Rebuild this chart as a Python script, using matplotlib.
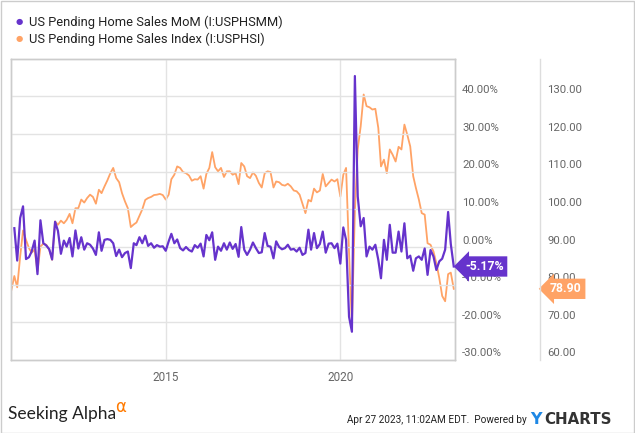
import numpy as np
import pandas as pd
import matplotlib
matplotlib.use("Agg")
import matplotlib.pyplot as plt
import matplotlib.dates as mdates
from matplotlib.lines import Line2D
from matplotlib.patches import Rectangle

plt.rcParams['font.family'] = ['Roboto', 'DejaVu Sans']

# monthly pending home sales index, Jul 2010 .. Mar 2023
index_dates = pd.date_range('2010-07-31', periods=153, freq='ME')
index_values = [
    78.6, 82.3, 79.3, 87.5, 94.4, 91.9, 89.7, 88.5, 89.3, 83.5,
    90.1, 90.9, 90.6, 89.3, 86.6, 96.8, 95.9, 97.0, 96.3, 97.2,
    98.8, 96.3, 100.3, 100.3, 102.6, 101.8, 103.0, 103.9, 103.3, 101.5,
    105.2, 104.3, 106.1, 107.7, 109.6, 111.0, 108.3, 107.2, 104.3, 102.1,
    100.3, 95.3, 96.0, 96.5, 98.3, 100.0, 102.5, 103.0, 103.3, 103.8,
    103.9, 104.1, 103.8, 102.6, 103.9, 108.0, 109.2, 111.4, 111.0, 109.9,
    109.6, 109.0, 107.6, 108.0, 107.9, 108.8, 105.5, 109.4, 111.0, 115.2,
    111.2, 110.1, 111.0, 108.6, 110.1, 110.1, 109.2, 109.6, 106.7, 112.3,
    111.4, 108.8, 108.3, 109.8, 108.9, 107.0, 105.8, 109.6, 110.1, 109.9,
    105.8, 107.4, 107.2, 106.5, 106.3, 106.8, 106.1, 105.0, 104.8, 103.9,
    101.5, 99.0, 102.5, 102.1, 105.5, 104.5, 105.0, 109.4, 106.1, 107.0,
    107.9, 107.4, 108.0, 103.4, 109.2, 111.0, 88.5, 69.5, 99.5, 116.0,
    122.1, 130.5, 127.4, 127.1, 126.5, 126.7, 121.6, 111.4, 113.2, 109.6,
    115.9, 114.5, 112.7, 116.6, 115.9, 122.5, 119.8, 116.7, 108.8, 105.7,
    102.6, 99.0, 98.6, 91.0, 90.6, 88.8, 85.7, 81.7, 77.0, 75.6,
    82.8, 83.2, 78.9,
]

# month over month change in %, Aug 2010 .. Mar 2023
mom_dates = pd.date_range('2010-08-31', periods=152, freq='ME')
mom_values = [
    5.0, -3.6, 7.7, 10.8, -3.2, -2.7, -1.2, 1.7, -7.2, 7.1,
    1.0, 0.4, -0.6, -3.3, 6.7, 4.3, -1.8, 1.7, 0.1, 2.4,
    -2.5, 4.4, -0.4, 2.6, -0.7, 1.0, 0.6, -0.4, -2.1, 3.9,
    -1.0, 1.9, 2.1, 1.9, 1.0, -2.4, -0.7, -2.7, -1.6, -1.2,
    -5.6, 1.0, 0.5, 2.6, 1.0, 3.0, 0.3, 1.0, -0.2, 0.5,
    0.1, 0.2, -1.0, 1.5, 3.5, 1.0, 2.0, -0.3, -0.9, 0.0,
    -0.8, -1.2, 0.5, -0.2, 0.9, -2.5, 3.2, 1.8, 3.9, -3.4,
    0.1, -1.0, 1.0, -0.7, 1.2, -0.5, 0.8, -2.6, 5.3, -0.7,
    -2.1, -0.7, 1.2, -0.3, -1.6, -1.4, 3.7, 0.3, 0.1, -3.0,
    1.5, 0.0, -0.6, -0.3, 0.6, -0.7, -0.5, -1.2, -0.2, -2.1,
    -1.6, 4.6, -0.7, 3.7, -0.3, 0.8, 4.1, -1.5, 0.9, 1.0,
    -0.3, 0.9, -4.4, 5.2, 1.9, -18.5, -22.5, 45.4, 13.4, 5.5,
    7.7, -2.5, 0.1, -0.7, 0.6, -3.4, -8.3, 1.9, -3.4, 5.9,
    -1.5, -1.5, 4.1, -1.2, 6.3, -3.0, -2.3, -6.3, -3.0, -2.5,
    -3.4, -0.4, -7.4, -0.8, -2.5, -6.1, -3.8, -3.1, -0.7, 9.3,
    0.8, -5.17,
]

pct_ticks = [-30, -20, -10, 0, 10, 20, 30, 40]
idx_ticks = [60, 70, 80, 90, 100, 110, 120, 130]
year_ticks = ['2015-01-01', '2020-01-01']

purple = '#6633cc'
orange = '#ffa366'
grid_c = '#e3e3e3'
label_c = '#666666'

fig = plt.figure(figsize=(6.35, 4.33), dpi=100)
W, H = 635, 433
ax = fig.add_axes([10.7 / W, 1 - 360 / H, (455 - 10.7) / W, (360 - 58.7) / H])
ax2 = ax.twinx()

ax.plot(mom_dates, mom_values, color=purple, lw=1.6, zorder=3)
ax2.plot(index_dates, index_values, color=orange, lw=1.3, zorder=2)
ax.set_zorder(ax2.get_zorder() + 1)
ax.patch.set_visible(False)

ax.set_ylim(-30, 50)
ax2.set_ylim(60, 140)
ax.set_xlim(pd.Timestamp('2010-07-24'), pd.Timestamp('2023-04-13'))

# grid
for v in pct_ticks[1:]:
    ax.axhline(v, color=grid_c, lw=1, zorder=0)
for d in year_ticks:
    ax.axvline(pd.Timestamp(d), color=grid_c, lw=1, zorder=0)

for a in (ax, ax2):
    a.set_yticks([])
    for s in a.spines.values():
        s.set_color('#cccccc')
        s.set_linewidth(1)
ax.set_xticks([pd.Timestamp(d) for d in year_ticks])
ax.xaxis.set_major_formatter(mdates.DateFormatter('%Y'))
ax.tick_params(axis='x', length=0, pad=8, labelsize=8.5, labelcolor=label_c)

# right-side value labels, sitting just above their gridlines
ytr = ax.get_yaxis_transform()
for v in pct_ticks:
    ax.text(1.016, v + 0.4, f'{v:.2f}%', transform=ytr, ha='left', va='bottom',
            fontsize=8.2, color=label_c)
ytr2 = ax2.get_yaxis_transform()
for v in idx_ticks:
    ax2.text(1.208, v + 0.4, f'{v:.2f}', transform=ytr2, ha='left', va='bottom',
             fontsize=8.2, color=label_c)

# separator between the two scales
fig.add_artist(Line2D([540 / W, 540 / W], [1 - 360 / H, 1 - 58.7 / H],
                      color='#dddddd', lw=1))

# last value flags
ax.text(1.0225, mom_values[-1], f'{mom_values[-1]:.2f}%', transform=ytr,
        ha='left', va='center', fontsize=8.8, fontweight='bold', color='white',
        bbox=dict(boxstyle='larrow,pad=0.3', fc=purple, ec='none'), zorder=5)
ax2.text(1.2138, index_values[-1], f'{index_values[-1]:.2f}', transform=ytr2,
         ha='left', va='center', fontsize=8.8, fontweight='bold', color='white',
         bbox=dict(boxstyle='larrow,pad=0.3', fc=orange, ec='none'), zorder=5)

# legend
fig.text(19 / W, 1 - 22 / H, '●', color=purple, fontsize=6, ha='center', va='center')
fig.text(29 / W, 1 - 22 / H, 'US Pending Home Sales MoM (I:USPHSMM)',
         fontsize=9.3, color='#222222', va='center')
fig.text(19 / W, 1 - 39 / H, '●', color=orange, fontsize=6, ha='center', va='center')
fig.text(29 / W, 1 - 39 / H, 'US Pending Home Sales Index (I:USPHSI)',
         fontsize=9.3, color='#222222', va='center')

# footer
fig.text(8 / W, 1 - 414 / H, 'Seeking Alpha', fontsize=12.5, color='#222222',
         va='center', family=['Lato', 'DejaVu Sans'])
fig.text(115 / W, 1 - 407 / H, 'α', fontsize=12, color='#ff7a00', va='center',
         family=['DejaVu Sans'])
fig.text(527 / W, 1 - 420 / H, 'Apr 27 2023, 11:02AM EDT.  Powered by', fontsize=7.2,
         color='#222222', ha='right', va='center')
fig.text(530 / W, 1 - 419 / H, 'Y', fontsize=11.5, color='#1e88e5', fontweight='bold',
         va='center', family=['DejaVu Sans'])
fig.text(544 / W, 1 - 419 / H, 'CHARTS', fontsize=10.8, color='#333333',
         fontweight='bold', va='center', family=['DejaVu Sans'])

# outer frame
fig.add_artist(Rectangle((0.5 / W, 0.5 / H), 1 - 1.5 / W, 1 - 1.5 / H,
                         transform=fig.transFigure, fill=False, ec='#cccccc', lw=1))

fig.savefig('out.png', dpi=100)
